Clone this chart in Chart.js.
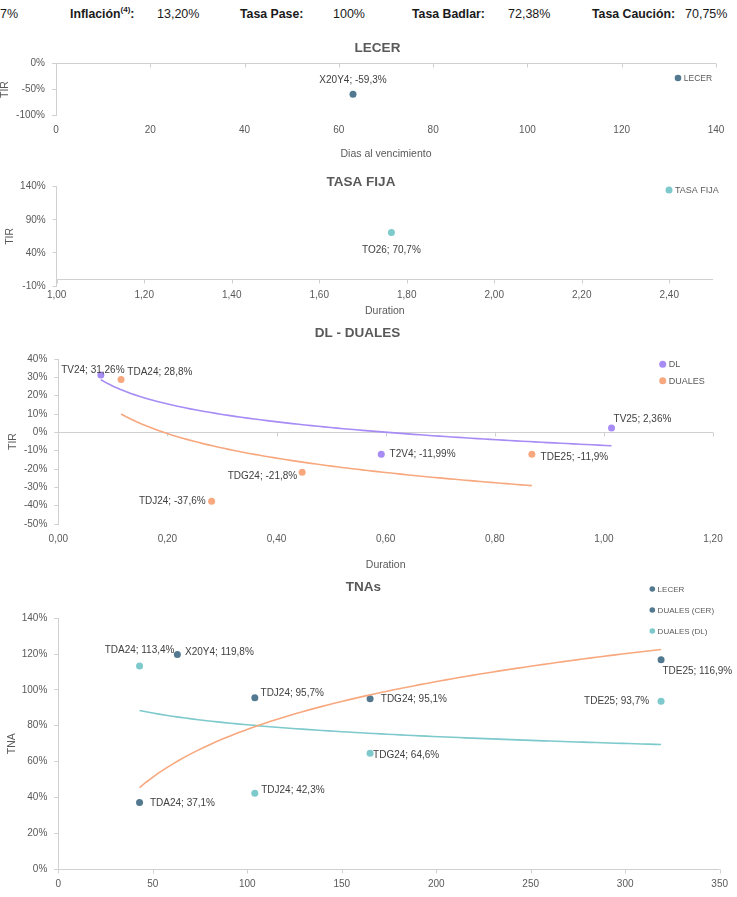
<!DOCTYPE html>
<html>
<head>
<meta charset="utf-8">
<script src="https://cdn.jsdelivr.net/npm/chart.js@4.4.1/dist/chart.umd.min.js"></script>
<style>
    body { margin: 0; background: #fff; width: 737px; height: 897px; position: relative; overflow: hidden; font-family: 'Liberation Sans', Arial, sans-serif; }
    .hdr { position: absolute; top: 6px; font-size: 12.5px; line-height: 16px; color: #1a1a1a; white-space: nowrap; }
    .hdr.b { font-weight: bold; font-size: 12.3px; }
    .hdr sup { font-size: 8px; line-height: 0; position: relative; top: -1px; }
    canvas { position: absolute; left: 0; }
</style>
</head>
<body>
<div class="hdr" style="left:0px">7%</div>
<div class="hdr b" style="left:70px">Inflación<sup>(4)</sup>:</div>
<div class="hdr" style="left:157px">13,20%</div>
<div class="hdr b" style="left:240px">Tasa Pase:</div>
<div class="hdr" style="left:333px">100%</div>
<div class="hdr b" style="left:412px">Tasa Badlar:</div>
<div class="hdr" style="left:508px">72,38%</div>
<div class="hdr b" style="left:592px">Tasa Caución:</div>
<div class="hdr" style="left:685px">70,75%</div>

<canvas id="lecer" width="737" height="131" style="top:30px"></canvas>
<canvas id="fija" width="737" height="152" style="top:166px"></canvas>
<canvas id="duales" width="737" height="252" style="top:320px"></canvas>
<canvas id="tnas" width="737" height="325" style="top:572px"></canvas>

<script>
// LECER (TIR vs dias al vencimiento)
const lecerNombres = ['X20Y4'];
const lecerDias = [63];
const lecerTir = [-59.3];

// TASA FIJA (TIR vs duration)
const fijaNombres = ['TO26'];
const fijaDuration = [1.765];
const fijaTir = [70.7];

// DL - DUALES (TIR vs duration)
const dlNombres = ['TV24', 'T2V4', 'TV25'];
const dlDuration = [0.078, 0.592, 1.014];
const dlTir = [31.26, -11.99, 2.36];
const dualesNombres = ['TDA24', 'TDJ24', 'TDG24', 'TDE25'];
const dualesDuration = [0.115, 0.281, 0.447, 0.868];
const dualesTir = [28.8, -37.6, -21.8, -11.9];

// TNAs (TNA vs dias)
const tnaLecerNombres = ['X20Y4'];
const tnaLecerDias = [63];
const tnaLecer = [119.8];
const tnaCerNombres = ['TDA24', 'TDJ24', 'TDG24', 'TDE25'];
const tnaCerDias = [43, 104, 165, 319];
const tnaCer = [37.1, 95.7, 95.1, 116.9];
const tnaDlNombres = ['TDA24', 'TDJ24', 'TDG24', 'TDE25'];
const tnaDlDias = [43, 104, 165, 319];
const tnaDl = [113.4, 42.3, 64.6, 93.7];

const FUENTE = "'Liberation Sans', Arial, sans-serif";
const GRIS = '#d0d0d0';
const TEXTO = '#595959';
const C_LECER = '#52798f';
const C_TEAL = '#7dc9cc';
const C_LILA = '#a78cf5';
const C_NARANJA = '#f8a87e';

Chart.defaults.font.family = FUENTE;

function puntos(xs, ys) {
    return xs.map((x, i) => ({ x: x, y: ys[i] }));
}

// Linea de tendencia logaritmica (como la de Excel), ajustada sobre los datos
function tendenciaLog(xs, ys, n) {
    const lx = xs.map(Math.log);
    const mx = lx.reduce((s, v) => s + v, 0) / lx.length;
    const my = ys.reduce((s, v) => s + v, 0) / ys.length;
    let sxy = 0, sxx = 0;
    lx.forEach((v, i) => { sxy += (v - mx) * (ys[i] - my); sxx += (v - mx) * (v - mx); });
    const b = sxy / sxx, a = my - b * mx;
    const x0 = Math.min(...xs), x1 = Math.max(...xs);
    const pts = [];
    for (let k = 0; k <= n; k++) {
        const x = x0 + (x1 - x0) * k / n;
        pts.push({ x: x, y: a + b * Math.log(x) });
    }
    return pts;
}

// eje horizontal en el 0% con sus marcas
const lineaCero = {
    id: 'lineaCero',
    beforeDatasetsDraw(chart) {
        const { ctx, chartArea: a, scales: { x, y } } = chart;
        const y0 = Math.round(y.getPixelForValue(0)) + 0.5;
        ctx.save();
        ctx.strokeStyle = GRIS;
        ctx.lineWidth = 1;
        ctx.beginPath();
        ctx.moveTo(a.left, y0);
        ctx.lineTo(a.right, y0);
        x.ticks.forEach(t => {
            const px = Math.round(x.getPixelForValue(t.value)) + 0.5;
            ctx.moveTo(px, y0);
            ctx.lineTo(px, y0 + 4);
        });
        ctx.stroke();
        ctx.restore();
    }
};

const tituloPanel = {
    id: 'tituloPanel',
    afterDraw(chart, args, opts) {
        if (!opts.texto) return;
        const ctx = chart.ctx;
        ctx.save();
        ctx.font = 'bold 13.5px ' + FUENTE;
        ctx.fillStyle = TEXTO;
        ctx.textAlign = 'center';
        ctx.textBaseline = 'middle';
        ctx.fillText(opts.texto, opts.x, opts.y);
        ctx.restore();
    }
};

const leyendaInterna = {
    id: 'leyendaInterna',
    afterDraw(chart, args, opts) {
        if (opts.x === undefined) return;
        const ctx = chart.ctx;
        ctx.save();
        ctx.font = opts.size + 'px ' + FUENTE;
        ctx.textBaseline = 'middle';
        ctx.textAlign = 'left';
        let fila = 0;
        chart.data.datasets.forEach(ds => {
            if (!ds.nombres) return;
            const cy = opts.y + fila * (opts.paso || 0);
            ctx.fillStyle = ds.backgroundColor;
            ctx.beginPath();
            ctx.arc(opts.x, cy, opts.r, 0, Math.PI * 2);
            ctx.fill();
            ctx.fillStyle = TEXTO;
            ctx.fillText(ds.label, opts.x + opts.r + 2.5, cy + 0.5);
            fila++;
        });
        ctx.restore();
    }
};

const etiquetas = {
    id: 'etiquetas',
    afterDatasetsDraw(chart) {
        const ctx = chart.ctx;
        ctx.save();
        ctx.font = '10px ' + FUENTE;
        ctx.fillStyle = '#404040';
        ctx.textBaseline = 'middle';
        chart.data.datasets.forEach((ds, i) => {
            if (!ds.nombres) return;
            const meta = chart.getDatasetMeta(i);
            meta.data.forEach((el, j) => {
                const p = ds.posEtiquetas[j];
                const v = ds.data[j].y;
                const txt = ds.nombres[j] + '; ' + v.toFixed(ds.decimales).replace('.', ',') + '%';
                ctx.textAlign = p[2];
                ctx.fillText(txt, el.x + p[0], el.y + p[1]);
            });
        });
        ctx.restore();
    }
};

Chart.register(lineaCero, tituloPanel, leyendaInterna, etiquetas);

function serie(label, data, color, nombres, decimales, pos) {
    return {
        label: label, data: data, backgroundColor: color, borderColor: color,
        pointRadius: 3.5, pointBorderWidth: 0, showLine: false,
        nombres: nombres, decimales: decimales, posEtiquetas: pos
    };
}

function tendencia(data, color) {
    return {
        label: '', data: data, borderColor: color, borderWidth: 1.6,
        pointRadius: 0, showLine: true, tension: 0, fill: false
    };
}

// arma un panel; c trae los limites del area de graficos en px del canvas
function panel(id, datasets, c) {
    const cv = document.getElementById(id);
    return new Chart(cv, {
        type: 'scatter',
        data: { datasets: datasets },
        options: {
            responsive: false,
            animation: false,
            events: [],
            layout: { padding: { top: c.top, right: cv.width - c.right, left: 0, bottom: 0 } },
            scales: {
                x: {
                    type: 'linear', min: c.xMin, max: c.xMax, bounds: 'data',
                    ticks: {
                        stepSize: c.xStep, includeBounds: false, padding: c.xPad, color: TEXTO,
                        font: { size: 10, lineHeight: 1.2 }, maxRotation: 0, autoSkip: false,
                        callback: c.xFmt
                    },
                    // solo las marcas que caen en el paso (sin el maximo suelto)
                    afterBuildTicks: s => {
                        s.ticks = s.ticks.filter(t => {
                            const k = (t.value - c.xMin) / c.xStep;
                            return Math.abs(k - Math.round(k)) < 1e-6;
                        });
                    },
                    grid: { display: false, drawTicks: false, tickLength: 0 },
                    border: { display: false },
                    title: {
                        display: !!c.xTitulo, text: c.xTitulo, color: TEXTO,
                        font: { size: 10.5, lineHeight: 1 }, padding: { top: 0, bottom: 1.75 }
                    },
                    afterFit: s => { s.height = cv.height - c.bottom; }
                },
                y: {
                    min: c.yMin, max: c.yMax,
                    ticks: { stepSize: c.yStep, padding: 7, color: TEXTO, font: { size: 10 }, callback: v => v + '%' },
                    grid: { drawOnChartArea: false, drawTicks: true, tickLength: 4, color: GRIS },
                    border: { display: true, color: GRIS },
                    title: {
                        display: true, text: c.yTitulo, color: TEXTO,
                        font: { size: 10.5, lineHeight: 1 }, padding: { top: c.yTitPad, bottom: 0 }
                    },
                    afterFit: s => { s.width = c.left; }
                }
            },
            plugins: {
                legend: { display: false },
                tooltip: { enabled: false },
                tituloPanel: c.titulo,
                leyendaInterna: c.leyenda
            }
        }
    });
}

const fmtDur = v => v.toFixed(2).replace('.', ',');

panel('lecer', [
    serie('LECER', puntos(lecerDias, lecerTir), C_LECER, lecerNombres, 1, [[0, -14, 'center']])
], {
    left: 56, right: 716, top: 33.3, bottom: 85.7,
    xMin: 0, xMax: 140, xStep: 20, xPad: 8.3, xFmt: v => v, xTitulo: 'Dias al vencimiento',
    yMin: -100, yMax: 0, yStep: 50, yTitulo: 'TIR', yTitPad: 0,
    titulo: { texto: 'LECER', x: 377.5, y: 18 },
    leyenda: { x: 678, y: 48, r: 3.3, size: 8.5 }
});

panel('fija', [
    serie('TASA FIJA', puntos(fijaDuration, fijaTir), C_TEAL, fijaNombres, 1, [[0, 18, 'center']])
], {
    left: 56.7, right: 713, top: 20.7, bottom: 120,
    xMin: 1, xMax: 2.5, xStep: 0.2, xPad: 3, xFmt: fmtDur, xTitulo: 'Duration',
    yMin: -10, yMax: 140, yStep: 50, yTitulo: 'TIR', yTitPad: 4.75,
    titulo: { texto: 'TASA FIJA', x: 361, y: 16 },
    leyenda: { x: 669, y: 24, r: 3.5, size: 9 }
});

panel('duales', [
    tendencia(tendenciaLog(dlDuration, dlTir, 80), C_LILA),
    tendencia(tendenciaLog(dualesDuration, dualesTir, 80), C_NARANJA),
    serie('DL', puntos(dlDuration, dlTir), C_LILA, dlNombres, 2,
        [[-8, -5, 'center'], [8.3, 0, 'left'], [2, -8.4, 'left']]),
    serie('DUALES', puntos(dualesDuration, dualesTir), C_NARANJA, dualesNombres, 1,
        [[6.3, -7.6, 'left'], [-6, 0, 'right'], [-5, 4, 'right'], [8.7, 2.7, 'left']])
], {
    left: 58.3, right: 713, top: 39, bottom: 204,
    xMin: 0, xMax: 1.2, xStep: 0.2, xPad: 9, xFmt: fmtDur, xTitulo: 'Duration',
    yMin: -50, yMax: 40, yStep: 10, yTitulo: 'TIR', yTitPad: 7.75,
    titulo: { texto: 'DL - DUALES', x: 357.5, y: 13 },
    leyenda: { x: 662.7, y: 44.3, paso: 16.4, r: 3.5, size: 9 }
});

panel('tnas', [
    tendencia(tendenciaLog(tnaCerDias, tnaCer, 80), C_NARANJA),
    tendencia(tendenciaLog(tnaDlDias, tnaDl, 80), C_TEAL),
    serie('LECER', puntos(tnaLecerDias, tnaLecer), C_LECER, tnaLecerNombres, 1, [[7.7, -2.3, 'left']]),
    serie('DUALES (CER)', puntos(tnaCerDias, tnaCer), C_LECER, tnaCerNombres, 1,
        [[10.4, 1, 'left'], [5.7, -4.4, 'left'], [10.7, 0.6, 'left'], [1.3, 12, 'left']]),
    serie('DUALES (DL)', puntos(tnaDlDias, tnaDl), C_TEAL, tnaDlNombres, 1,
        [[0, -16, 'center'], [6.4, -2.6, 'left'], [3, 1.7, 'left'], [-12, 0.4, 'right']])
], {
    left: 58.3, right: 720, top: 46.3, bottom: 297,
    xMin: 0, xMax: 350, xStep: 50, xPad: 9, xFmt: v => v, xTitulo: '',
    yMin: 0, yMax: 140, yStep: 20, yTitulo: 'TNA', yTitPad: 6.75,
    titulo: { texto: 'TNAs', x: 363.5, y: 15 },
    leyenda: { x: 652.3, y: 17, paso: 21, r: 2.8, size: 8 }
});
</script>
</body>
</html>
